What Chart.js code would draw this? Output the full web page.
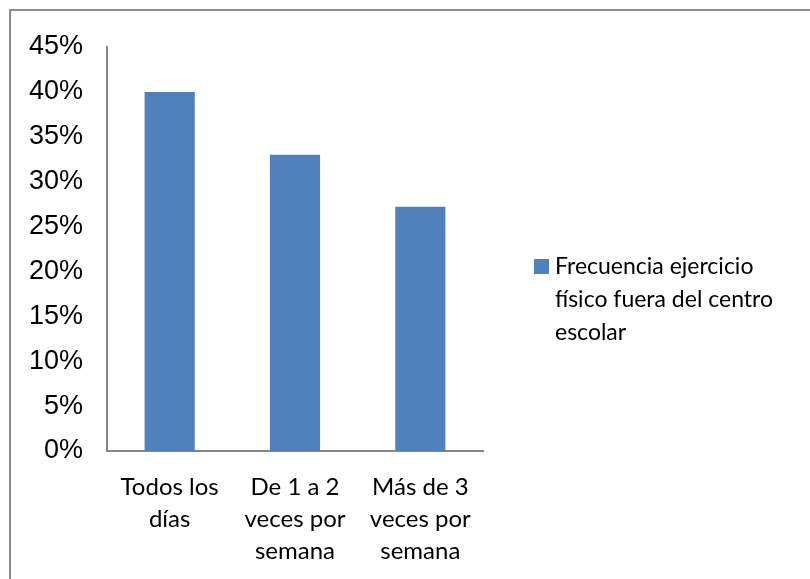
<!DOCTYPE html>
<html>

<head>
    <title>Frecuencia ejercicio físico</title>
    <script src="https://cdn.jsdelivr.net/npm/chart.js"></script>
    <style>
        body { margin: 0; background: #fff; }
        #wrap { position: relative; width: 810px; height: 579px; overflow: hidden; }
        #frame { position: absolute; left: 9px; top: 9px; width: 900px; height: 700px;
                 border-left: 2px solid #8c8c8c; border-top: 2px solid #8c8c8c; }
        #chart { position: absolute; left: 0; top: 0; }
        #legend { position: absolute; left: 534px; top: 249px; display: flex;
                  font-family: Lato, sans-serif; font-size: 23px; line-height: 33px; color: #000; }
        #legend .box { width: 15px; height: 15px; margin-top: 10px; margin-right: 6px; flex: none; }
        #legend .txt { width: 245px; }
    </style>
</head>

<body>
    <div id="wrap">
        <div id="frame"></div>
        <canvas id="chart" width="810" height="579"></canvas>
        <div id="legend"></div>
    </div>

    <script>
        // categories (multi-line labels as shown under the bars)
        const categories = [
            ['Todos los', 'días'],
            ['De 1 a 2', 'veces por', 'semana'],
            ['Más de 3', 'veces por', 'semana']
        ];
        const seriesName = 'Frecuencia ejercicio físico fuera del centro escolar';
        const seriesValues = [40, 33, 27.2]; // percent
        const yMax = 45;
        const yStep = 5;

        const barColor = '#4F81BD';
        const axisColor = '#868686';

        const ctx = document.getElementById('chart').getContext('2d');
        const chart = new Chart(ctx, {
            type: 'bar',
            data: {
                labels: categories,
                datasets: [{
                    label: seriesName,
                    data: seriesValues,
                    backgroundColor: barColor,
                    borderWidth: 0,
                    barPercentage: 0.4,
                    categoryPercentage: 1
                }]
            },
            options: {
                responsive: false,
                animation: false,
                layout: { padding: { top: 47, right: 327, left: 0, bottom: 0 } },
                plugins: {
                    legend: { display: false },
                    tooltip: { enabled: false }
                },
                scales: {
                    x: {
                        grid: { display: false, drawTicks: false },
                        border: { display: true, color: axisColor, width: 2 },
                        ticks: {
                            color: '#000',
                            padding: 20,
                            maxRotation: 0,
                            autoSkip: false,
                            font: { family: 'Lato', size: 24, lineHeight: 32 / 24 }
                        },
                        afterFit: (scale) => { scale.height = 128; }
                    },
                    y: {
                        min: 0,
                        max: yMax,
                        grid: { display: false, drawTicks: false },
                        border: { display: true, color: axisColor, width: 2 },
                        ticks: {
                            stepSize: yStep,
                            color: '#000',
                            padding: 24,
                            font: { family: 'Liberation Sans', size: 27 },
                            callback: (v) => v + '%'
                        },
                        afterFit: (scale) => { scale.width = 107; }
                    }
                }
            }
        });

        // legend as html so the long label can wrap like the original
        const legend = document.getElementById('legend');
        chart.data.datasets.forEach((ds) => {
            const box = document.createElement('div');
            box.className = 'box';
            box.style.background = ds.backgroundColor;
            const txt = document.createElement('div');
            txt.className = 'txt';
            txt.textContent = ds.label;
            legend.appendChild(box);
            legend.appendChild(txt);
        });
    </script>
</body>

</html>
